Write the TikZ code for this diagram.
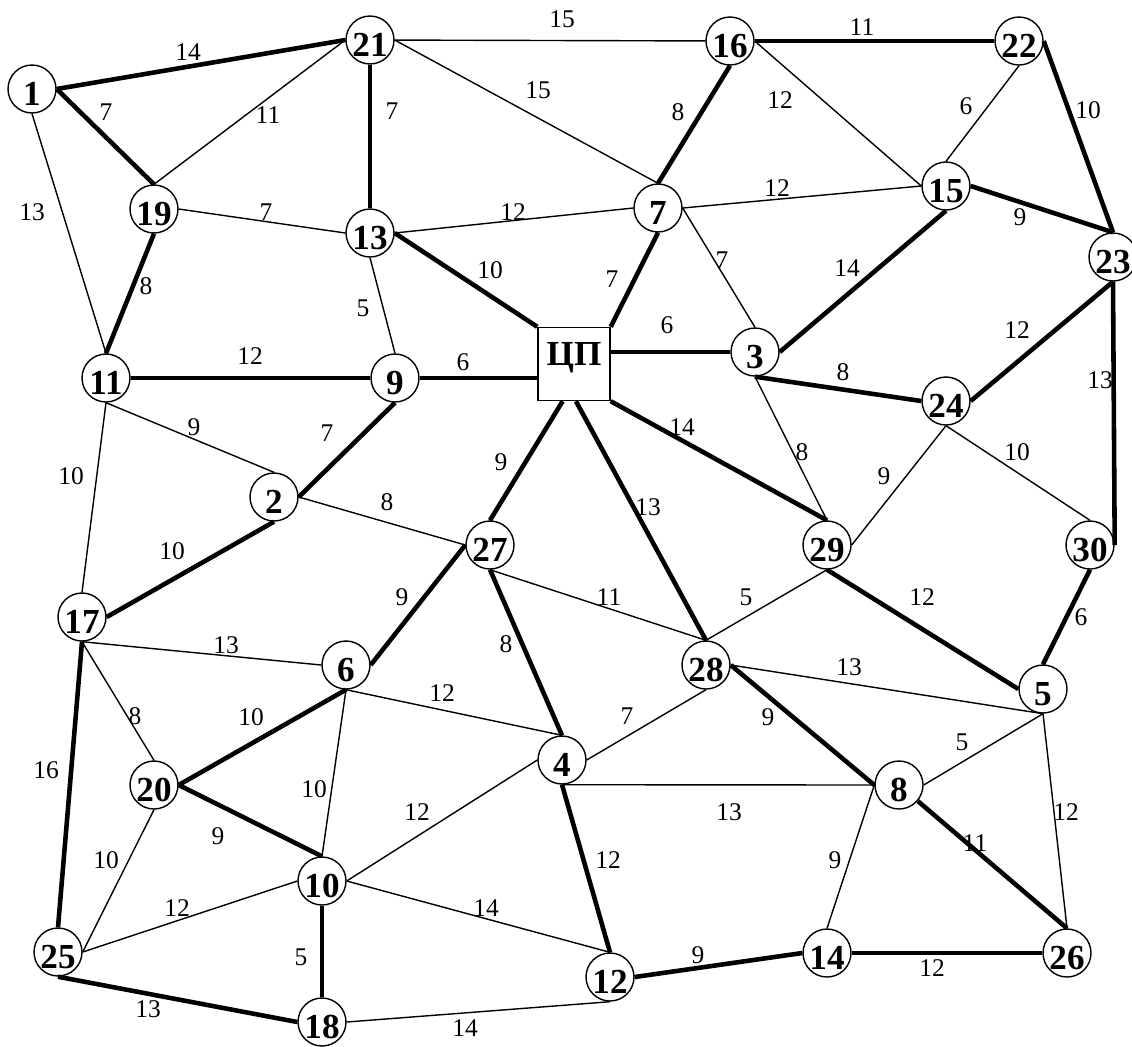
\documentclass[tikz,border=0pt]{standalone}
\usepackage{fontspec}
\setmainfont{Liberation Serif}
\usetikzlibrary{calc}
\tikzset{
  vtx/.style={circle, draw, line width=0.8pt, fill=white, minimum size=0.96cm, inner sep=0pt},
  hub/.style={rectangle, draw, line width=0.8pt, fill=white, minimum width=1.44cm, minimum height=1.46cm, inner sep=0pt},
  vnum/.style={font=\fontsize{20}{20}\selectfont\bfseries, inner sep=0pt, yshift=-2.8pt},
  hubnum/.style={font=\fontsize{20}{20}\selectfont\bfseries, inner sep=0pt, yshift=3.6pt},
  wt/.style={font=\fontsize{14.5}{14.5}\selectfont, inner sep=0pt},
  tree/.style={line width=2.6pt},
  link/.style={line width=0.8pt},
}
\begin{document}
\begin{tikzpicture}[x=0.02cm, y=-0.02cm]
  \useasboundingbox (0,0) rectangle (1132,1046);

  % --- vertices ---
  \foreach \n/\x/\y in {1/32/89, 21/370/40, 16/730/41, 22/1019/41,
      19/154/209, 13/370/233, 7/658/208, 15/946/186, 23/1113/257,
      11/106/378, 9/395/378, 3/755/352, 24/946/401, 2/274/497,
      27/490/545, 29/827/545, 30/1090/545, 17/82/617, 6/346/665,
      28/706/665, 5/1043/689, 20/154/785, 4/562/760, 8/899/785,
      10/322/881, 25/58/952, 12/610/977, 14/827/953, 26/1067/953,
      18/322/1022}
    \node[vtx, label={[vnum]center:\n}] (v\n) at (\x,\y) {};
  \node[hub, label={[hubnum]center:ЦП}] (cp) at (574,364) {};

  % --- tree edges (thick) ---
  \foreach \a/\b/\w/\lx/\ly [count=\i] in {
      v1.east/v21.west/14/188/52, v1.east/v19.north/7/106/112,
      v21/v13/7/392/111, v19.south/v11.north/8/146/286,
      v16/v22/11/862/27, v16.south/v7.north/8/678/112,
      v22.east/v23.north/10/1088/110, v15.east/v23.north/9/1020/217,
      v13.east/cp.north west/10/490/270, v7.south/cp.north east/7/612/279,
      v3.east/v15.south/14/847/268, v3.south/v24.west/8/843/372,
      v24.east/v23.south/12/1017/330, v23.south/v30.east/13/1100/380,
      v11/v9/12/250/356, v9.south/v2.east/7/327/433,
      v2.south/v17.east/10/172/551, cp.253/v27.north/9/501/462,
      cp.273/v28.north/13/648/507, cp.south east/v29.north/14/682/427,
      v29.south/v5.west/12/922/597, v30.south/v5.north/6/1081/617,
      v27.west/v6.east/9/402/597, v27.south/v4.north/8/506/644,
      v28.east/v8.west/9/768/717, v6.south/v20.east/10/251/717,
      v20.east/v10.north/9/218/836, v17.south/v25.north/16/46/770,
      v10/v18/5/301/957, v25.south/v18.west/13/148/1009,
      v4.south/v12.north/12/608/860, v12.east/v14.west/9/698/955,
      v14/v26/12/932/968, v8/v26.north/11/975/843} {
    \draw[tree] (\a) -- (\b);
    \node[wt] (t\i) at (\lx,\ly) {\w};
  }
  \draw[tree] (v9) -- (v9 -| cp.west);
  \node[wt] (t-cp9) at (463,362) {6};
  \draw[tree] (cp.east |- v3) -- (v3);
  \node[wt] (t-cp3) at (667,325) {6};

  % --- other edges (thin) ---
  \foreach \a/\b/\w/\lx/\ly [count=\i] in {
      v21/v16/15/562/19, v21.west/v19.north/11/268/115,
      v21.east/v7.north/15/538/90, v1.south/v11.north/13/32/212,
      v19.east/v13.west/7/266/212, v13.east/v7.west/12/513/212,
      v13.south/v9.north/5/363/308, v7.east/v15.west/12/777/188,
      v16.east/v15.west/12/780/100, v22.south/v15.north/6/966/106,
      v7.east/v3.north/7/722/260, v3.south/v29.north/8/802/452,
      v24.south/v29.east/9/884/476, v24.south/v30.north/10/1017/452,
      v11.south/v2.north/9/194/427, v11.south/v17.north/10/71/476,
      v2.east/v27.west/8/387/502, v27.south/v28.north/11/609/597,
      v29.south/v28.north/5/746/597, v17.south/v6.west/13/226/645,
      v17.south/v20.north/8/135/716, v6.south/v4.north/12/442/693,
      v6.south/v10.north/10/314/789, v28.south/v4.east/7/627/716,
      v28.east/v5.south/13/849/667, v4.south/v8.west/13/729/812,
      v8.east/v5.south/5/962/742, v5.south/v26.north/12/1066/812,
      v10.east/v4.west/12/417/812, v20.south/v25.east/10/106/860,
      v25.east/v10.west/12/177/908, v10.east/v12.north/14/486/908,
      v8.west/v14.north/9/835/860, v18.east/v12.south/14/465/1028} {
    \draw[link] (\a) -- (\b);
    \node[wt] (s\i) at (\lx,\ly) {\w};
  }
\end{tikzpicture}
\end{document}
